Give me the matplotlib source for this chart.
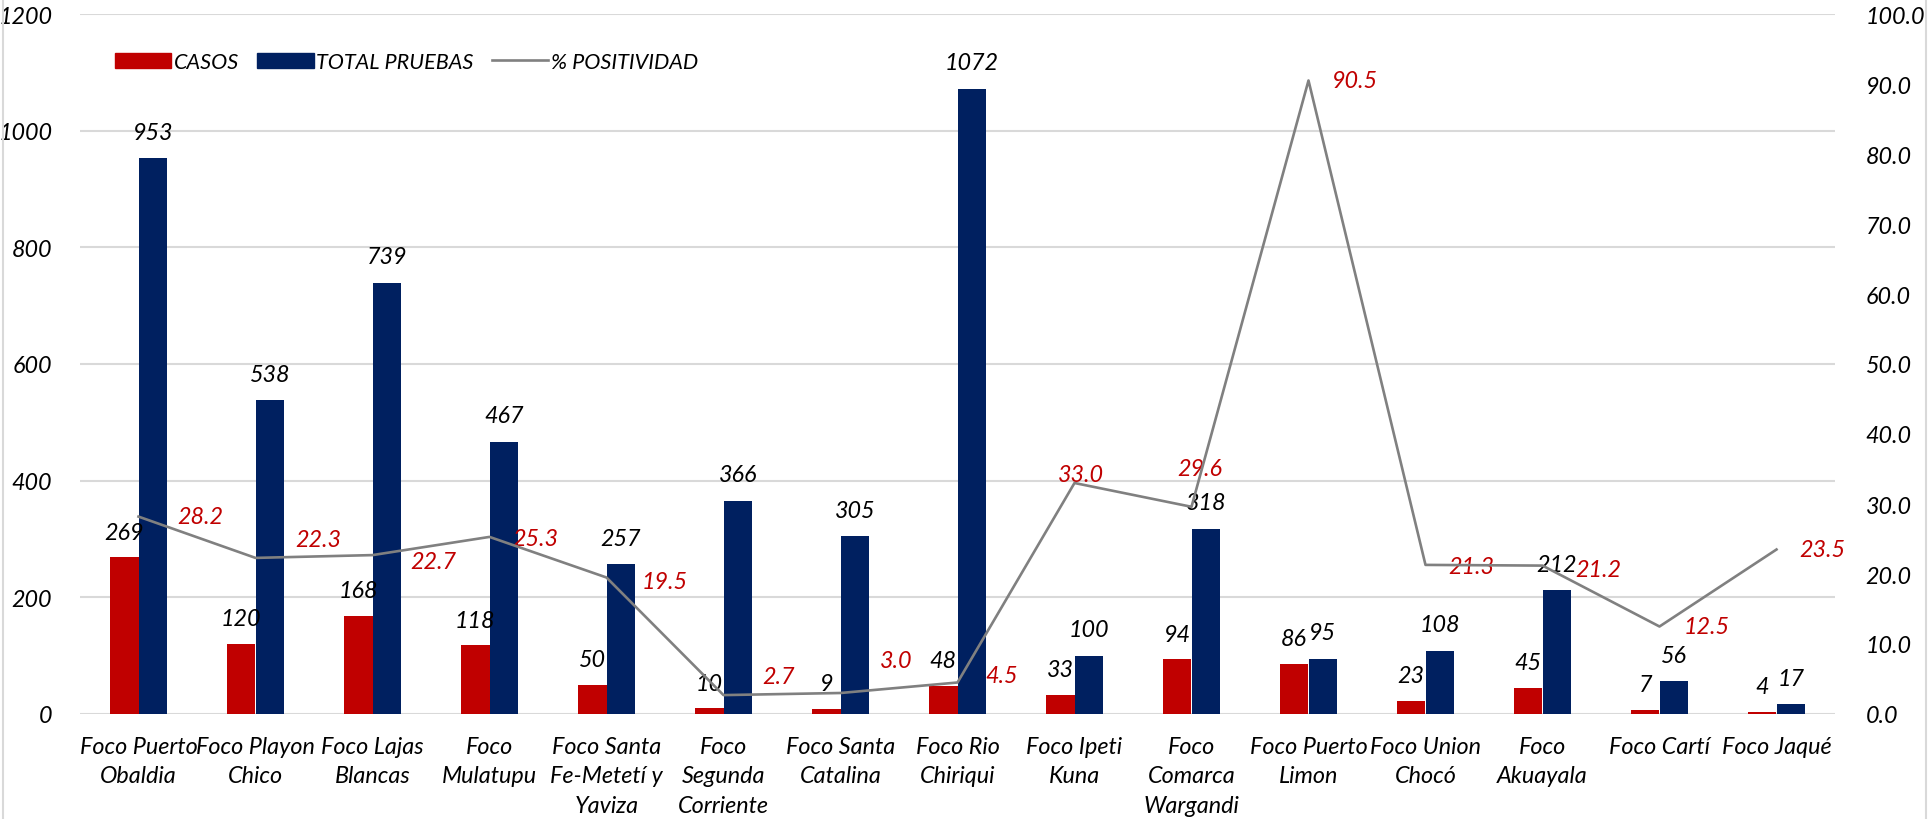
import numpy as np
import matplotlib.pyplot as plt
from matplotlib.lines import Line2D

focos = ["Foco Puerto\nObaldia", "Foco Playon\nChico", "Foco Lajas\nBlancas", "Foco\nMulatupu",
         "Foco Santa\nFe-Metetí y\nYaviza", "Foco\nSegunda\nCorriente", "Foco Santa\nCatalina",
         "Foco Rio\nChiriqui", "Foco Ipeti\nKuna", "Foco\nComarca\nWargandi", "Foco Puerto\nLimon",
         "Foco Union\nChocó", "Foco\nAkuayala", "Foco Cartí", "Foco Jaqué"]
casos = [269, 120, 168, 118, 50, 10, 9, 48, 33, 94, 86, 23, 45, 7, 4]
pruebas = [953, 538, 739, 467, 257, 366, 305, 1072, 100, 318, 95, 108, 212, 56, 17]
positividad = [28.2, 22.3, 22.7, 25.3, 19.5, 2.7, 3.0, 4.5, 33.0, 29.6, 90.5, 21.3, 21.2, 12.5, 23.5]

# label offsets for the % labels (pixels, left edge of text relative to point)
pct_off = [(39, 0), (40, 18), (38, -6), (23, -2), (35, -4), (39, 19), (39, 32), (28, 7),
           (-17, 8), (-14, 38), (23, 0), (23, -2), (33, -4), (24, 0), (23, 0)]

ROJO = '#C00000'
AZUL = '#002060'
GRIS = '#808080'
GRID = '#D9D9D9'

plt.rcParams['font.family'] = ['Lato', 'DejaVu Sans']
plt.rcParams['font.style'] = 'italic'
fs = 16.8

W, H = 1929, 820
fig = plt.figure(figsize=(W / 100, H / 100), dpi=100)
ax = fig.add_axes([80 / W, 105 / H, (1835 - 80) / W, (715 - 15) / H])
ax2 = ax.twinx()

x = np.arange(len(focos))
bw = 0.245
ax.bar(x - bw / 2, casos, bw, color=ROJO, zorder=3)
ax.bar(x + bw / 2, pruebas, bw, color=AZUL, zorder=3)

for i in range(len(x)):
    ax.annotate(str(casos[i]), (x[i] - bw / 2, casos[i]), xytext=(0, 25), textcoords='offset pixels',
                ha='center', va='center', fontsize=fs, color='black', zorder=5)
    ax.annotate(str(pruebas[i]), (x[i] + bw / 2, pruebas[i]), xytext=(0, 26), textcoords='offset pixels',
                ha='center', va='center', fontsize=fs, color='black', zorder=5)

ax2.plot(x, positividad, color=GRIS, lw=1.9, zorder=4)
for i in range(len(x)):
    ax2.annotate(f"{positividad[i]:.1f}", (x[i], positividad[i]), xytext=pct_off[i],
                 textcoords='offset pixels', ha='left', va='center', fontsize=fs, color=ROJO)

ax.set_xlim(-0.5, len(x) - 0.5)
ax.set_ylim(0, 1200)
ax.set_yticks(range(0, 1201, 200))
ax2.set_ylim(0, 100)
ax2.set_yticks(range(0, 101, 10))
ax2.set_yticklabels([f"{v:.1f}" for v in range(0, 101, 10)])

ax.yaxis.grid(True, color=GRID, lw=1.5)
ax.set_axisbelow(True)
ax.set_xticks(x)
ax.set_xticklabels(focos, fontsize=fs, linespacing=1.48)
ax.tick_params(axis='x', length=0, pad=16)
ax.tick_params(axis='y', length=0, pad=20, labelsize=fs)
ax2.tick_params(axis='y', length=0, pad=22, labelsize=fs)
for a in (ax, ax2):
    for s in a.spines.values():
        s.set_visible(False)
ax.axhline(0, color=GRID, lw=2, zorder=2)

handles = [plt.Rectangle((0, 0), 1, 1, color=ROJO), plt.Rectangle((0, 0), 1, 1, color=AZUL),
           Line2D([], [], color=GRIS, lw=1.9)]
fig.legend(handles, ['CASOS', 'TOTAL PRUEBAS', '% POSITIVIDAD'], loc='center left',
           bbox_to_anchor=(106 / W, 1 - 63 / H), ncol=3, frameon=False, fontsize=15.6,
           handlelength=2.6, handletextpad=0.12, columnspacing=0.85, borderaxespad=0)

fig.add_artist(Line2D([3 / W, 3 / W], [0, 1], color=GRID, lw=1.5))
fig.add_artist(Line2D([1926 / W, 1926 / W], [0, 1], color=GRID, lw=1.5))

fig.savefig('out.png', dpi=100)
